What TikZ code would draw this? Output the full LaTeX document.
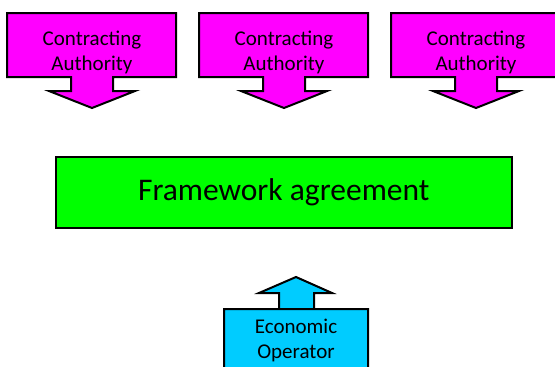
\documentclass[tikz,border=0pt]{standalone}
\usepackage{fontspec}
\setmainfont{Carlito}
\definecolor{mag}{HTML}{FF00FF}
\definecolor{grn}{HTML}{00FF00}
\definecolor{cyn}{HTML}{00CCFF}
\tikzset{
  shapeline/.style={draw=black, line width=2pt, line join=miter},
  lbl/.style={align=center, font=\fontsize{21}{25}\selectfont, inner sep=0pt},
}
\newcommand{\downcallout}[1]{%
  \path[shapeline, fill=mag] (#1-85,13) -- (#1+84,13) -- (#1+84,77) -- (#1+21,77) -- (#1+21,91)
    -- (#1+43,91) -- (#1,108) -- (#1-43,91) -- (#1-21,91) -- (#1-21,77) -- (#1-85,77) -- cycle;}
\begin{document}
\begin{tikzpicture}[x=1pt,y=-1pt]
\useasboundingbox (0,0) rectangle (555,367);
\clip (0,0) rectangle (555,367);
\downcallout{92}
\downcallout{284}
\downcallout{476}
\node[lbl] (ca1) at (92,52) {Contracting\\Authority};
\node[lbl] (ca2) at (284,52) {Contracting\\Authority};
\node[lbl] (ca3) at (476,52) {Contracting\\Authority};
\node[shapeline, fill=grn, minimum width=456pt, minimum height=71.5pt, inner sep=0pt,
      font=\fontsize{31.5}{36}\selectfont] (fa) at (283.7,192.5) {Framework agreement};
\path[shapeline, fill=cyn] (224,309) -- (368,309) -- (368,380) -- (224,380) -- (224,309)
  -- (279,309) -- (279,293) -- (259,293) -- (296,277) -- (332,293) -- (314,293) -- (314,309) -- (368,309);
\node[lbl] (eo) at (296,340.5) {Economic\\Operator};
\end{tikzpicture}
\end{document}
